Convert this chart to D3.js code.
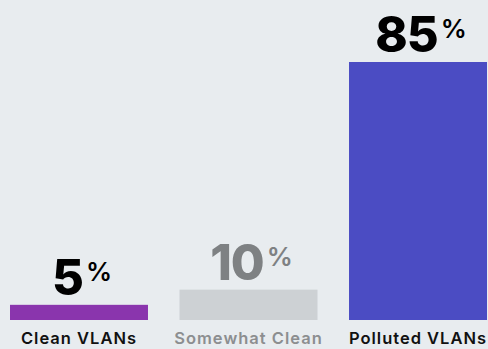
<!DOCTYPE html>
<html><head><meta charset="utf-8">
<script src="https://cdn.jsdelivr.net/npm/d3@7"></script>
<style>html,body{margin:0;padding:0;background:#e8ecef;}svg{display:block;}</style>
</head><body>
<svg id="c" width="488" height="349"></svg>
<script>
const categories = ["Clean VLANs", "Somewhat Clean", "Polluted VLANs"];
const values = [5, 10, 85];
const barColors = ["#8a35ad", "#cdd1d4", "#4b4cc3"];
const valueColors = ["#000000", "#7e8183", "#000000"];
const labelColors = ["#111111", "#8c8e90", "#111111"];

const svg = d3.select("#c");
const W = 488, H = 349;
svg.append("rect").attr("width", W).attr("height", H).attr("fill", "#e8ecef");

const x = d3.scaleBand().domain(categories).range([10, 487]).paddingInner(0.186).paddingOuter(0);
const y = d3.scaleLinear().domain([0, 85]).range([320, 62]);

const g = svg.append("g");
g.selectAll("rect.bar").data(categories).join("rect")
  .attr("class", "bar")
  .attr("x", d => x(d))
  .attr("width", x.bandwidth())
  .attr("y", (d, i) => y(values[i]))
  .attr("height", (d, i) => y(0) - y(values[i]))
  .attr("fill", (d, i) => barColors[i]);

const font = "Inter, 'Open Sans', sans-serif";
const vt = g.selectAll("text.val").data(categories).join("text")
  .attr("class", "val")
  .attr("x", d => x(d) + x.bandwidth() / 2 + 3)
  .attr("y", (d, i) => y(values[i]) - 10)
  .attr("text-anchor", "middle")
  .attr("font-family", font)
  .attr("font-weight", 800)
  .attr("fill", (d, i) => valueColors[i]);
vt.append("tspan").attr("font-size", 49).attr("letter-spacing", -1).text((d, i) => values[i]);
vt.append("tspan").attr("font-size", 26).attr("font-weight", 600).attr("dx", 3).attr("dy", -14).text("%");

g.selectAll("text.cat").data(categories).join("text")
  .attr("class", "cat")
  .attr("x", d => x(d) + x.bandwidth() / 2)
  .attr("y", 344)
  .attr("text-anchor", "middle")
  .attr("font-family", font)
  .attr("font-weight", 600)
  .attr("font-size", 16.5)
  .attr("letter-spacing", 1)
  .attr("fill", (d, i) => labelColors[i])
  .text(d => d);
</script>
</body></html>
